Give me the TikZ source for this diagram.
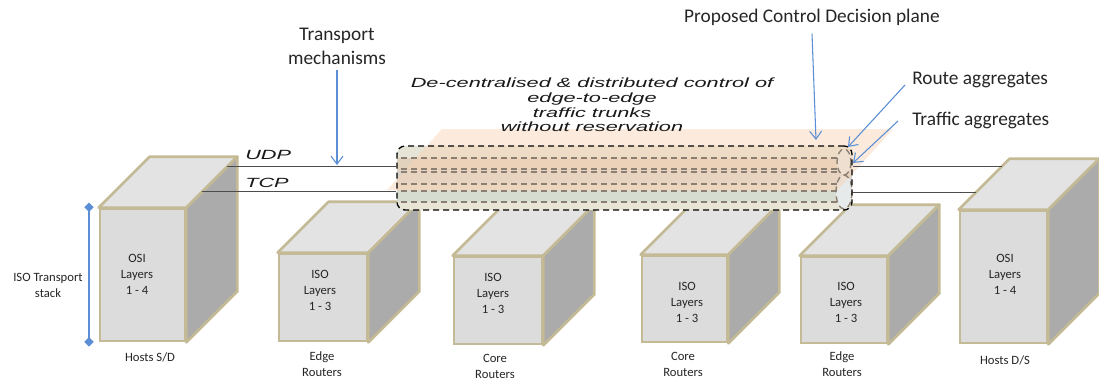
\documentclass[tikz,border=0pt]{standalone}
\usepackage{fontspec}
\setmainfont{Carlito}
\newfontfamily\arialfam{Liberation Sans}
\usetikzlibrary{arrows.meta,calc}

\definecolor{cubeedge}{HTML}{C4BA96}
\definecolor{facegray}{HTML}{DCDCDC}
\definecolor{topgray}{HTML}{E3E3E3}
\definecolor{sidegray}{HTML}{ABABAB}
\definecolor{callout}{HTML}{5B8ED4}
\definecolor{planepeach}{HTML}{FAD3B4}
\definecolor{bandA}{HTML}{E6E4D6}
\definecolor{bandB}{HTML}{E0D2BC}
\definecolor{bandC}{HTML}{DBD2CB}
\definecolor{bandD}{HTML}{E2D9C8}
\definecolor{bandE}{HTML}{D6DCD0}
\definecolor{bandF}{HTML}{E8E5D6}
\definecolor{capfill}{HTML}{E6EAEA}
\definecolor{innerdash}{HTML}{8A7F72}

\tikzset{
  face/.style={draw=cubeedge, fill=facegray, line width=2pt, inner sep=0pt},
  cubeline/.style={draw=cubeedge, line width=2pt, line join=round},
  lblsmall/.style={font=\fontsize{9.5}{12}\selectfont, align=center, text=black!85, inner sep=0pt},
  lblbig/.style={font=\fontsize{14.5}{17.5}\selectfont, align=center, text=black!85, inner sep=0pt},
  callarrow/.style={draw=callout, line width=0.8pt, -{Straight Barb[length=6pt,width=9pt]}},
  proto/.style={font=\arialfam\itshape\fontsize{10}{11}\selectfont, text=black!90, inner sep=0pt},
  wire/.style={draw=black!70, line width=1pt},
  outerdash/.style={draw=black, line width=1pt, dash pattern=on 4.5pt off 3pt},
  innerdashed/.style={draw=innerdash, line width=1pt, dash pattern=on 4.5pt off 3pt},
  pipebody/.style={outerdash, rounded corners=6pt, inner sep=0pt},
}

% #1 name, #2/#3 centre of front face, #4/#5 face width/height,
% #6/#7 text position, #8 text
\newcommand\stackcube[8]{%
  \node[face, minimum width=(#4-2)*0.75pt, minimum height=(#5-2)*0.75pt] (#1) at (#2,#3) {};
  \filldraw[cubeline, fill=topgray] (#1.north west) -- ($(#1.north west)+(51,-51)$)
      -- ($(#1.north east)+(51,-51)$) -- (#1.north east) -- cycle;
  \filldraw[cubeline, fill=sidegray] (#1.north east) -- ($(#1.north east)+(51,-51)$)
      -- ($(#1.south east)+(51,-51)$) -- (#1.south east) -- cycle;
  \node[lblsmall] (#1-txt) at (#6,#7) {#8};
}

\begin{document}
\begin{tikzpicture}[x=0.75pt, y=-0.75pt]
  \fill[white] (0,0) rectangle (1099,383);
  \useasboundingbox (0,0) rectangle (1099,383);

  % hosts and routers
  \stackcube{hSD}{142.5}{275}{87}{134}{137}{274}{OSI\\Layers\\1 - 4}
  \stackcube{er1}{323}{297.5}{90}{89}{320}{290}{ISO\\Layers\\1 - 3}
  \stackcube{cr1}{498}{300.5}{90}{89}{493}{293}{ISO\\Layers\\1 - 3}
  \stackcube{cr2}{684.5}{299}{87}{88}{687}{302}{ISO\\Layers\\1 - 3}
  \stackcube{er2}{844}{300}{88}{88}{846}{302}{ISO\\Layers\\1 - 3}
  \stackcube{hDS}{1003.5}{277}{89}{134}{1005}{274}{OSI\\Layers\\1 - 4}

  % captions under the boxes
  \node[lblsmall] (capSD) at (150,357) {Hosts S/D};
  \node[lblsmall] (capE1) at (322,364) {Edge\\Routers};
  \node[lblsmall] (capC1) at (495,366) {Core\\Routers};
  \node[lblsmall] (capC2) at (683,364) {Core\\Routers};
  \node[lblsmall] (capE2) at (842,364) {Edge\\Routers};
  \node[lblsmall] (capDS) at (1005,360) {Hosts D/S};

  % transport stack bracket
  \node[lblsmall] (isoStack) at (48,285) {ISO Transport\\stack};
  \coordinate (stackTop) at (89,202.5);
  \coordinate (stackBot) at (89,346.5);
  \draw[draw=callout, line width=1pt,
        {Turned Square[length=7pt,width=7pt]}-{Turned Square[length=7pt,width=7pt]}]
        (stackTop) -- (stackBot);

  % trunk pipe: coloured bands
  \begin{scope}
    \clip[rounded corners=6pt] (397,146) rectangle (852,210);
    \fill[bandA] (397,146) rectangle (852,158);
    \fill[bandB] (397,158) rectangle (852,170);
    \fill[bandC] (397,170) rectangle (852,184);
    \fill[bandD] (397,184) rectangle (852,191);
    \fill[bandE] (397,191) rectangle (852,202);
    \fill[bandF] (397,202) rectangle (852,210);
    \fill[capfill] (844,162) ellipse (7 and 13);
    \fill[capfill] (844,192) ellipse (8 and 17);
  \end{scope}

  % control decision plane
  \fill[planepeach, opacity=0.45] (442,129) -- (893,129) -- (838,190) -- (387,190) -- cycle;

  % inner aggregate outlines
  \foreach \yy in {158,169,172,184,191,202}
    \draw[innerdashed] (401,\yy) -- (838,\yy);
  \draw[innerdashed] (844,162) ellipse (7 and 13);
  \draw[innerdashed] (844,192) ellipse (8 and 17);

  % outer trunk
  \node[pipebody, minimum width=455*0.75pt, minimum height=64*0.75pt] (pipe) at (624.5,178) {};

  % UDP / TCP paths
  \coordinate (udpA) at ($(hSD.north east)+(41,-41)$);
  \coordinate (tcpA) at ($(hSD.north east)+(16,-16)$);
  \coordinate (udpB) at ($(hDS.north west)+(43,-43)$);
  \coordinate (tcpB) at ($(hDS.north west)+(17,-17)$);
  \draw[wire] (udpA) -- (udpA -| pipe.west);
  \draw[wire] (tcpA) -- (tcpA -| pipe.west);
  \draw[wire] (udpB -| pipe.east) -- (udpB);
  \draw[wire] (tcpB -| pipe.east) -- (tcpB);

  \node[proto, anchor=west] (udp) at (245,155) {\scalebox{1.63}[1]{UDP}};
  \node[proto, anchor=west] (tcp) at (245,183) {\scalebox{1.63}[1]{TCP}};

  % italic description
  \node[proto, align=center] (ctl) at (592,105)
    {\scalebox{1.63}[1]{De-centralised \& distributed control of}\\
     \scalebox{1.63}[1]{edge-to-edge}\\
     \scalebox{1.63}[1]{traffic trunks}\\
     \scalebox{1.63}[1]{without reservation}};

  % call-outs
  \node[lblbig] (tm) at (337,46.5) {Transport\\mechanisms};
  \node[lblbig] (pcd) at (812,17) {Proposed Control Decision plane};
  \node[lblbig, anchor=west] (ra) at (912,80) {Route aggregates};
  \node[lblbig, anchor=west] (ta) at (912,120) {Traffic aggregates};

  \coordinate (tmEnd) at (337,165);
  \coordinate (pcdEnd) at (816,140);
  \coordinate (raEnd) at (848,147);
  \coordinate (taEnd) at (853,163);
  \draw[callarrow] ([yshift=-4]tm.south) -- (tmEnd);
  \draw[callarrow] ([yshift=-6]pcd.south) -- (pcdEnd);
  \draw[callarrow] ($(ra.west)+(-7,5)$) -- (raEnd);
  \draw[callarrow] ($(ta.west)+(-14,1)$) -- (taEnd);
\end{tikzpicture}
\end{document}
